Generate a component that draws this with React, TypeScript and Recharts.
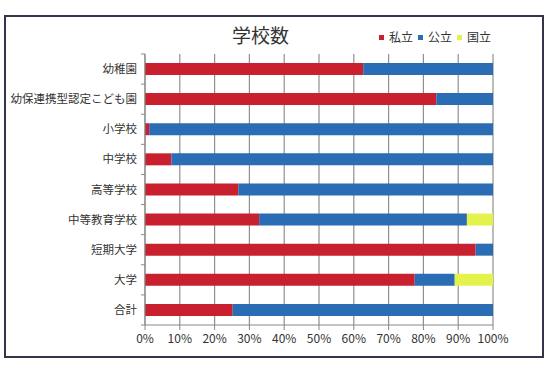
import React from 'react';
import { BarChart, Bar, XAxis, YAxis, CartesianGrid, Legend } from 'recharts';

const categories = ['幼稚園', '幼保連携型認定こども園', '小学校', '中学校', '高等学校', '中等教育学校', '短期大学', '大学', '合計'];
const privateShare = [62.7, 83.7, 1.2, 7.6, 26.8, 32.8, 95.0, 77.5, 25.2];
const publicShare = [37.3, 16.3, 98.8, 92.4, 73.2, 59.7, 5.0, 11.5, 74.8];
const nationalShare = [0, 0, 0, 0, 0, 7.5, 0, 11.0, 0];
const xTicks = [0, 10, 20, 30, 40, 50, 60, 70, 80, 90, 100];
const seriesNames = ['私立', '公立', '国立'];

const COLORS = ['#c9202f', '#2a6db4', '#e4f34c'];
const FONT = '"Noto Sans CJK JP", "Noto Sans", sans-serif';

const data = categories.map((name, i) => ({
  name,
  private: privateShare[i],
  public: publicShare[i],
  national: nationalShare[i],
}));

const W = 554;
const H = 366;
const MARGIN = { top: 54, right: 61, bottom: 11, left: 0 };
const X_AXIS_H = 30;
const PLOT_H = H - MARGIN.top - MARGIN.bottom - X_AXIS_H;
const BAND = PLOT_H / categories.length;
const TICK_OFFSET = 8;

const YTick = (props: any) => {
  const { x, y, payload, index } = props;
  const ax = x + TICK_OFFSET;
  return (
    <g>
      <text x={x} y={y} dy="0.35em" textAnchor="end" fontSize={11.5} fill="#333" fontFamily={FONT}>
        {payload.value}
      </text>
      <line x1={ax - 4} x2={ax} y1={y - BAND / 2} y2={y - BAND / 2} stroke="#888" strokeWidth={1} />
      {index === categories.length - 1 && (
        <line x1={ax - 4} x2={ax} y1={y + BAND / 2} y2={y + BAND / 2} stroke="#888" strokeWidth={1} />
      )}
    </g>
  );
};

const LegendContent = (props: any) => {
  const items = [...(props.payload || [])].sort(
    (a: any, b: any) => seriesNames.indexOf(a.value) - seriesNames.indexOf(b.value)
  );
  return (
    <div style={{ display: 'flex', alignItems: 'center', fontFamily: FONT, fontSize: 12, color: '#333', lineHeight: '16px', whiteSpace: 'nowrap' }}>
      {items.map((p: any) => (
        <div key={p.value} style={{ display: 'flex', alignItems: 'center', marginRight: 5 }}>
          <span style={{ display: 'inline-block', width: 5, height: 5, background: p.color, marginRight: 5 }} />
          <span>{p.value}</span>
        </div>
      ))}
    </div>
  );
};

export default function App() {
  return (
    <div style={{ position: 'absolute', left: 0, top: 0, width: W, height: H, background: '#fff', overflow: 'hidden' }}>
      <div
        style={{
          position: 'absolute',
          left: 4,
          top: 15,
          width: 536,
          height: 339,
          border: '2px solid #34344a',
        }}
      />
      <div
        style={{
          position: 'absolute',
          left: 232,
          top: 25,
          fontFamily: FONT,
          fontSize: 19,
          lineHeight: '20px',
          color: '#333',
          whiteSpace: 'nowrap',
        }}
      >
        学校数
      </div>
      <div style={{ position: 'absolute', left: 0, top: 0 }}>
        <BarChart width={W} height={H} data={data} layout="vertical" margin={MARGIN} barSize={12}>
          <CartesianGrid horizontal={false} stroke="#8f8f8f" strokeWidth={1.2} />
          <XAxis
            type="number"
            domain={[0, 100]}
            ticks={xTicks}
            interval={0}
            height={X_AXIS_H}
            tickFormatter={(v: number) => `${v}%`}
            tick={{ fontSize: 12, fill: '#333', fontFamily: FONT }}
            tickSize={5}
            tickMargin={4}
            stroke="#888"
          />
          <YAxis
            type="category"
            dataKey="name"
            width={145}
            interval={0}
            tickLine={false}
            tickSize={0}
            tickMargin={TICK_OFFSET}
            tick={<YTick />}
            stroke="#888"
          />
          <Legend
            layout="vertical"
            verticalAlign="middle"
            align="center"
            content={<LegendContent />}
            wrapperStyle={{ top: 29, left: 379, width: 'auto', height: 'auto' }}
          />
          <Bar dataKey="private" name={seriesNames[0]} stackId="s" fill={COLORS[0]} isAnimationActive={false} />
          <Bar dataKey="public" name={seriesNames[1]} stackId="s" fill={COLORS[1]} isAnimationActive={false} />
          <Bar dataKey="national" name={seriesNames[2]} stackId="s" fill={COLORS[2]} isAnimationActive={false} />
        </BarChart>
      </div>
    </div>
  );
}
